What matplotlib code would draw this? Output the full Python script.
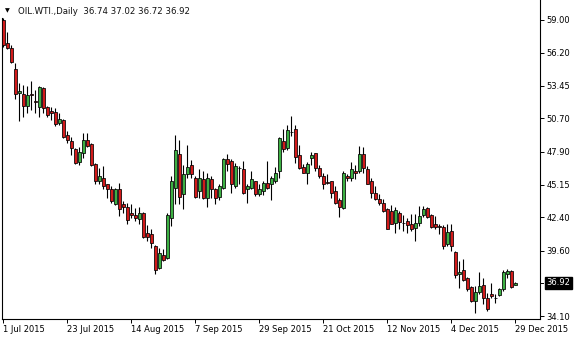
import matplotlib
matplotlib.use("Agg")
import matplotlib.pyplot as plt

# OIL.WTI daily candles, 1 Jul 2015 .. 29 Dec 2015
opens = [58.96, 57.02, 56.60, 54.84, 52.82, 52.74, 51.73, 52.74, 52.15, 51.64,
         53.24, 51.64, 51.31, 51.22, 50.30, 50.55, 49.29, 48.78, 48.11, 47.02,
         47.77, 48.87, 48.53, 46.85, 45.42, 45.75, 45.17, 44.75, 43.57, 44.75,
         43.57, 43.32, 42.81, 42.64, 42.31, 42.81, 41.13, 41.04, 40.04, 38.19,
         39.28, 39.03, 42.39, 44.91, 47.69, 44.41, 46.01, 46.76, 45.75, 44.66,
         45.59, 44.07, 45.59, 44.83, 44.16, 44.91, 47.27, 47.10, 45.08, 46.55,
         46.43, 44.75, 44.91, 45.42, 44.41, 44.66, 45.33, 45.17, 45.50, 46.26,
         48.78, 48.19, 49.54, 49.79, 47.60, 46.60, 46.17, 47.35, 47.77, 46.51,
         45.92, 45.36, 45.42, 44.58, 43.90, 43.23, 45.92, 45.75, 46.26, 46.26,
         47.69, 46.43, 45.42, 44.49, 43.99, 43.65, 43.15, 42.98, 41.97, 42.81,
         41.97, 42.14, 41.89, 41.55, 41.97, 42.64, 43.23, 42.64, 41.89, 41.72,
         41.63, 40.20, 41.30, 39.53, 37.68, 38.02, 37.34, 36.59, 35.41, 36.17,
         36.76, 35.66, 36.00, 35.68, 35.91, 36.42, 37.68, 37.93, 36.74]
highs = [59.13, 57.95, 56.86, 55.34, 53.66, 53.49, 53.41, 53.83, 53.07, 53.41,
         53.32, 51.73, 51.64, 51.56, 51.14, 50.63, 49.62, 49.12, 48.19, 48.28,
         49.45, 49.45, 48.61, 46.93, 46.51, 46.68, 45.25, 45.08, 44.91, 45.33,
         43.82, 43.65, 43.57, 43.23, 43.32, 42.90, 41.80, 41.47, 40.12, 39.87,
         39.78, 42.81, 45.84, 49.29, 48.87, 46.76, 48.45, 47.18, 45.92, 46.43,
         46.26, 46.09, 45.84, 44.91, 45.25, 47.35, 47.69, 47.27, 46.93, 46.68,
         47.10, 45.25, 46.34, 45.50, 45.25, 45.50, 47.10, 45.92, 46.60, 49.12,
         49.79, 50.13, 50.88, 50.13, 48.45, 46.85, 47.02, 47.86, 47.80, 46.76,
         46.09, 46.01, 45.50, 45.00, 44.07, 46.26, 46.01, 47.02, 46.76, 48.36,
         48.28, 46.68, 45.67, 45.00, 44.41, 43.99, 43.23, 43.48, 43.32, 42.98,
         42.64, 42.39, 42.72, 42.72, 43.40, 43.40, 43.32, 42.72, 42.56, 41.89,
         41.80, 41.89, 41.89, 39.62, 38.77, 38.94, 37.40, 36.67, 36.67, 37.85,
         37.34, 36.08, 36.92, 36.00, 36.50, 38.02, 38.10, 38.02, 37.02]
lows = [56.69, 56.52, 55.34, 52.31, 50.46, 50.80, 51.14, 51.39, 51.14, 50.80,
        51.14, 50.80, 50.55, 50.04, 50.13, 49.05, 48.61, 47.60, 46.85, 46.76,
        47.35, 48.28, 46.68, 45.25, 45.17, 44.83, 44.07, 43.65, 43.48, 42.56,
        42.81, 41.89, 42.39, 42.14, 41.89, 40.71, 40.46, 39.87, 37.68, 38.10,
        38.77, 38.95, 41.72, 43.57, 43.57, 43.15, 45.67, 45.75, 44.07, 44.07,
        43.99, 43.32, 44.07, 43.57, 43.90, 44.83, 46.34, 44.49, 44.91, 45.25,
        44.41, 43.65, 44.75, 44.24, 44.24, 44.32, 44.83, 43.90, 45.33, 45.75,
        47.86, 48.03, 49.20, 46.93, 46.43, 46.09, 45.25, 46.76, 46.34, 45.75,
        44.83, 45.25, 44.07, 43.57, 42.47, 43.15, 45.50, 45.50, 45.59, 46.17,
        46.17, 45.20, 44.07, 43.90, 43.48, 42.90, 41.40, 41.85, 41.13, 41.47,
        41.30, 41.13, 41.30, 40.46, 41.72, 42.47, 42.39, 41.55, 41.47, 41.04,
        39.78, 40.04, 39.62, 37.34, 36.50, 37.09, 36.25, 35.33, 34.40, 36.00,
        35.16, 34.57, 35.66, 35.24, 35.83, 36.25, 37.34, 36.50, 36.72]
closes = [56.86, 56.60, 55.43, 52.74, 52.99, 51.73, 52.65, 52.70, 52.06, 53.32,
          51.56, 50.97, 51.14, 50.21, 50.63, 49.12, 48.87, 48.19, 46.93, 47.86,
          48.87, 48.36, 46.76, 45.50, 45.92, 45.08, 44.83, 43.82, 44.75, 43.15,
          43.32, 42.22, 42.64, 42.39, 42.81, 40.79, 40.79, 40.29, 38.02, 39.45,
          38.86, 42.64, 45.42, 48.03, 44.16, 46.01, 46.60, 46.01, 44.16, 45.75,
          44.07, 45.67, 44.75, 44.07, 45.08, 47.27, 46.85, 45.25, 46.68, 46.51,
          44.49, 45.08, 45.59, 44.41, 44.83, 45.33, 44.91, 45.67, 46.17, 49.03,
          48.11, 49.71, 49.58, 47.44, 46.51, 46.17, 46.85, 47.60, 46.51, 45.84,
          45.25, 45.30, 44.49, 43.65, 43.32, 46.17, 45.67, 46.43, 46.09, 47.69,
          46.51, 45.25, 44.49, 43.99, 43.65, 42.98, 41.47, 41.89, 43.06, 42.06,
          41.92, 41.80, 41.47, 41.97, 42.56, 43.15, 42.47, 41.63, 41.63, 41.63,
          40.04, 41.21, 40.04, 37.60, 37.85, 37.18, 36.42, 35.41, 36.17, 36.67,
          35.66, 34.74, 35.83, 35.64, 36.42, 37.85, 37.93, 36.59, 36.92]

date_ticks = [0, 16, 32, 48, 64, 80, 96, 112, 128]
date_labels = ["1 Jul 2015", "23 Jul 2015", "14 Aug 2015", "7 Sep 2015",
               "29 Sep 2015", "21 Oct 2015", "12 Nov 2015", "4 Dec 2015",
               "29 Dec 2015"]
price_ticks = [34.10, 39.60, 42.40, 45.15, 47.90, 50.70, 53.45, 56.20, 59.00]

bull = "#3cb043"
bear = "#d11a1a"
font = "DejaVu Sans"

fig = plt.figure(figsize=(5.8, 3.4), dpi=100)
ax = fig.add_axes([2 / 580, 21 / 340, 538 / 580, 319 / 340])

idx = list(range(len(opens)))
colors = [bull if c >= o else bear for o, c in zip(opens, closes)]
bottoms = [min(o, c) for o, c in zip(opens, closes)]
heights = [max(abs(c - o), 0.02) for o, c in zip(opens, closes)]

ax.vlines(idx, lows, highs, color="black", lw=0.8, zorder=2)
ax.bar(idx, heights, bottom=bottoms, width=0.74, color=colors,
       edgecolor="black", linewidth=0.55, zorder=3)

ax.set_xlim(-0.33, 134.2)
ax.set_ylim(33.89, 60.635)

ax.spines["top"].set_visible(False)
ax.spines["left"].set_bounds(33.89, 59.15)
for s in ["left", "right", "bottom"]:
    ax.spines[s].set_linewidth(0.8)

ax.yaxis.tick_right()
ax.set_yticks(price_ticks, [f"{p:.2f}" for p in price_ticks])
ax.set_xticks(date_ticks, date_labels)
for lbl in ax.get_xticklabels():
    lbl.set_ha("left")
ax.tick_params(axis="y", direction="out", length=3, width=0.7, pad=1.5,
               labelsize=6)
ax.tick_params(axis="x", direction="out", length=3, width=0.7, pad=1.0,
               labelsize=6)
for lbl in ax.get_xticklabels() + ax.get_yticklabels():
    lbl.set_family(font)

# current price marker
last = closes[-1]
ax.annotate(f"{last:.2f}", xy=(1, last), xycoords=("axes fraction", "data"),
            xytext=(4.5, 0), textcoords="offset points", va="center",
            ha="left", fontsize=6, family=font, color="white",
            bbox=dict(boxstyle="square,pad=0.2", fc="black", ec="black"))
ax.plot([1, 1.006], [last, last], transform=ax.get_yaxis_transform(),
        color="black", lw=0.7, clip_on=False)

title = "OIL.WTI.,Daily  {:.2f} {:.2f} {:.2f} {:.2f}".format(
    opens[-1], highs[-1], lows[-1], closes[-1])
fig.text(5 / 580, 1 - 11 / 340, "\u25bc", fontsize=4.5, family=font,
         va="center", ha="left", color="black")
fig.text(18 / 580, 1 - 11 / 340, title, fontsize=6.2, family=font,
         va="center", ha="left", color="#111111")

fig.savefig("out.png", dpi=100)
